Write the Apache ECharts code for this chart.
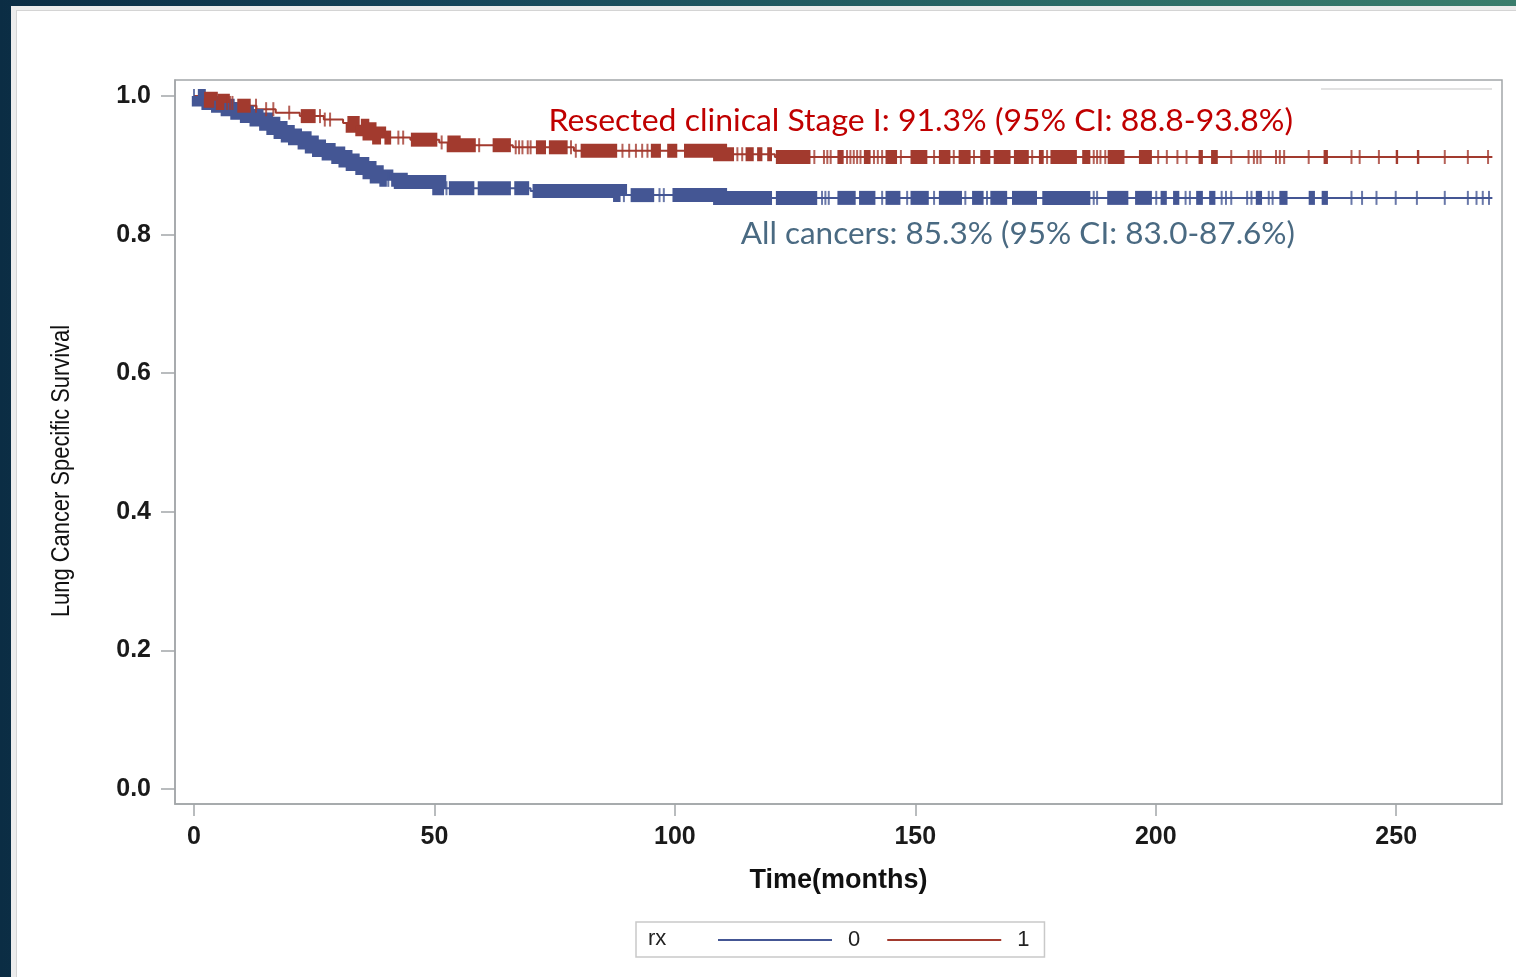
<!DOCTYPE html>
<html>
<head>
<meta charset="utf-8">
<script src="https://cdn.jsdelivr.net/npm/echarts@6/dist/echarts.min.js"></script>
<style>
html,body{margin:0;padding:0;width:1516px;height:977px;overflow:hidden}
body{background:linear-gradient(90deg,#0b2d44 0%,#15455a 30%,#2a6a66 70%,#3a7d6c 100%);}
#panel{position:absolute;left:11px;top:6px;width:1505px;height:971px;background:#ececec;}
#inner{position:absolute;left:16px;top:10px;width:1500px;height:967px;background:#fff;border-left:1px solid #d4d4d4;border-top:1px solid #d4d4d4;box-sizing:border-box}
#chart{position:absolute;left:0;top:0;width:1516px;height:977px}
</style>
</head>
<body>
<div id="panel"></div>
<div id="inner"></div>
<div id="chart"></div>
<script>
// ---------- data ----------
// Kaplan-Meier step curves (time in months, survival); last entry = end of follow-up
const blueTimes = [0, 1, 3, 5, 7, 9, 11, 13, 15, 16.5, 18, 19.5, 21, 23, 24.5, 26, 28, 30, 31.5, 33, 35, 36.5, 38, 40, 43, 51, 70, 88.6, 109.4, 270];
const blueSurv  = [1.0, 0.995, 0.990, 0.986, 0.981, 0.976, 0.971, 0.966, 0.960, 0.954, 0.948, 0.943, 0.939, 0.933, 0.927, 0.922, 0.917, 0.912, 0.907, 0.902, 0.896, 0.890, 0.884, 0.879, 0.876, 0.867, 0.863, 0.857, 0.853, 0.853];

const redTimes = [0, 1, 3.5, 6, 9, 13, 17, 22, 27, 31, 33, 35, 36.5, 38.5, 45, 51, 54, 66.3, 79, 109.4, 120.8, 270];
const redSurv  = [1.0, 0.996, 0.993, 0.990, 0.986, 0.981, 0.976, 0.971, 0.966, 0.961, 0.957, 0.952, 0.946, 0.940, 0.937, 0.933, 0.929, 0.926, 0.921, 0.916, 0.912, 0.912];

// censored observations: dense runs [start, end] and single marks
const blueCensorRuns = [[0.8,40.1],[41,52],[53,58.3],[59,65.9],[66.6,69.7],[70.4,88.7],[90.8,95.7],[99.5,120.2],[121,129.6],[133.8,137.6],[138.3,141.7],[143.8,146.9],[149,152.8],[154.9,159.7],[161.8,164.2],[165.6,169.1],[170.1,175.3],[176.4,186.4],[189.9,194.3],[195.7,199.2],[201,202.3],[203.6,204.9],[208.4,209.8],[211.1,212.4],[220.8,222.1],[225.7,227.4],[231.8,233.1],[234.5,235.8]];
const blueCensorMarks = [0, 40.4, 52.5, 89.4, 96.8, 97.7, 130.6, 131.3, 132, 143.1, 148.3, 153.9, 160.4, 164.9, 187.1, 187.8, 200.1, 206.2, 207.1, 213.7, 214.6, 215.7, 219.0, 219.9, 223.5, 224.3, 240.7, 242.9, 245.9, 249.9, 254.3, 260.1, 264.9, 266.7, 268, 269.3];

const redCensorRuns = [[2.1,4.2],[4.9,6.3],[9,11.8],[22.2,25.3],[31.9,34],[34.7,38.9],[39.6,41],[45.1,50.6],[52.7,58.6],[62.1,65.9],[71.1,73.2],[73.8,77.7],[80.4,88],[95,97.1],[98.4,100.5],[101.9,112.3],[114.7,116.4],[117.1,118.2],[119.2,120.2],[121,128.2],[133.8,135.1],[139.3,140.7],[143.8,146.2],[149,152.5],[154.9,157.3],[159,161.5],[163.5,165.6],[166.3,169.8],[170.5,173.6],[175.7,176.7],[178.1,183.6],[184.7,186.4],[190,193.5],[196.5,199.2],[208.9,209.8],[211.5,212.9],[234.9,235.8],[249.9,250.4],[254.3,254.8]];
const redCensorMarks = [6.9, 7.5, 8.0, 12.9, 15, 16.5, 19.8, 26.2, 27.2, 28.3, 42.5, 43.5, 51.5, 59.3, 66.9, 67.6, 68.3, 69.4, 70.0, 78.4, 79.4, 89.1, 90.5, 91.9, 93.2, 94.3, 113, 114, 129, 131, 131.7, 132.4, 135.8, 136.5, 137.2, 137.9, 138.6, 141.4, 142.2, 143.1, 147, 153.9, 158, 162.2, 174.3, 177.4, 187.1, 187.8, 188.5, 189.5, 200.5, 202.3, 204.5, 206.4, 215.7, 219.3, 220.4, 221.1, 221.8, 225, 225.8, 226.7, 231.8, 240.7, 242.4, 246.4, 260.1, 264.9, 269.1];

const xTicks = [0, 50, 100, 150, 200, 250];
const yTicks = [0.0, 0.2, 0.4, 0.6, 0.8, 1.0];
const groupNames = ['0', '1'];
const legendTitle = 'rx';
const xTitle = 'Time(months)';
const yTitle = 'Lung Cancer Specific Survival';
const redNote = 'Resected clinical Stage I: 91.3% (95% CI: 88.8-93.8%)';
const blueNote = 'All cancers: 85.3% (95% CI: 83.0-87.6%)';

// ---------- drawing ----------
const X_MIN = -3.95, X_MAX = 272.0, Y_MIN = -0.0216, Y_MAX = 1.0231;
const BLUE = '#445694', RED = '#A23A2E', AXIS = '#a3a6a9';
const MARK_H = 14;

function survAt(T, S, t) {
  let s = S[0];
  for (let i = 0; i < T.length; i++) { if (T[i] <= t) s = S[i]; else break; }
  return s;
}
function stepData(T, S) { return T.map((t, i) => [t, S[i]]); }
function markData(T, S, marks) { return marks.map(t => [t, survAt(T, S, t)]); }

function runRenderer(T, S, color) {
  return function (params, api) {
    const s = api.value(0), e = api.value(1);
    const pts = [];
    let cur = survAt(T, S, s);
    pts.push(api.coord([s, cur]));
    for (let i = 0; i < T.length; i++) {
      if (T[i] > s && T[i] <= e) {
        pts.push(api.coord([T[i], cur]));
        cur = S[i];
        pts.push(api.coord([T[i], cur]));
      }
    }
    pts.push(api.coord([e, cur]));
    return {
      type: 'polyline',
      shape: { points: pts },
      style: { stroke: color, lineWidth: MARK_H, fill: null, lineJoin: 'miter', lineCap: 'butt' },
      silent: true
    };
  };
}

const chart = echarts.init(document.getElementById('chart'), null, { renderer: 'canvas' });

const option = {
  animation: false,
  backgroundColor: 'transparent',
  grid: { left: 175, top: 80, right: 14, bottom: 173, show: true, borderColor: AXIS, borderWidth: 1.5, backgroundColor: 'transparent' },
  xAxis: {
    type: 'value', min: X_MIN, max: X_MAX,
    splitLine: { show: false },
    axisLine: { show: true, onZero: false, lineStyle: { color: AXIS, width: 1.5 } },
    axisTick: { show: true, length: 12, lineStyle: { color: AXIS, width: 1.5 }, customValues: xTicks },
    axisLabel: { customValues: xTicks, fontSize: 25, fontWeight: 'bold', color: '#1a1a1a', fontFamily: 'Liberation Sans', margin: 21 },
    name: xTitle, nameLocation: 'middle', nameGap: 63,
    nameTextStyle: { fontSize: 27, fontWeight: 'bold', color: '#111', fontFamily: 'Liberation Sans' }
  },
  yAxis: {
    type: 'value', min: Y_MIN, max: Y_MAX,
    splitLine: { show: false },
    axisLine: { show: true, onZero: false, lineStyle: { color: AXIS, width: 1.5 } },
    axisTick: { show: true, length: 14, lineStyle: { color: AXIS, width: 1.5 }, customValues: yTicks },
    axisLabel: { customValues: yTicks, fontSize: 25, fontWeight: 'bold', color: '#1a1a1a', fontFamily: 'Liberation Sans', margin: 24, formatter: v => v.toFixed(1) }
  },
  legend: {
    data: groupNames, left: 636, top: 922,
    icon: 'rect', itemWidth: 114, itemHeight: 2, itemGap: 27,
    padding: [7, 15, 6, 82],
    borderColor: '#c9c9c9', borderWidth: 1.5,
    selectedMode: false,
    textStyle: { fontSize: 22, color: '#222', fontFamily: 'Liberation Sans', padding: [0, 0, 0, 11] }
  },
  graphic: [
    { type: 'text', left: 648, top: 928, style: { text: legendTitle, font: '22px "Liberation Sans"', fill: '#222' } },
    { type: 'line', shape: { x1: 1321, y1: 89, x2: 1492, y2: 89 }, style: { stroke: '#d8d8d8', lineWidth: 1.5 } },
    { type: 'text', x: 62, y: 471, rotation: Math.PI / 2, scaleX: 0.876,
      style: { text: yTitle, font: '25px "Liberation Sans"', fill: '#111', align: 'center', verticalAlign: 'middle' } },
    { type: 'text', x: 1293, y: 121, scaleX: 1.065, style: { text: redNote, font: '30px Lato', fill: '#C00000', align: 'right', verticalAlign: 'middle' } },
    { type: 'text', x: 1295, y: 234, scaleX: 1.05, style: { text: blueNote, font: '30px Lato', fill: '#4A6A82', align: 'right', verticalAlign: 'middle' } }
  ],
  series: [
    { name: groupNames[0], type: 'line', step: 'end', data: stepData(blueTimes, blueSurv), symbol: 'none', showSymbol: false,
      lineStyle: { color: BLUE, width: 2 }, itemStyle: { color: BLUE }, z: 2 },
    { name: groupNames[1], type: 'line', step: 'end', data: stepData(redTimes, redSurv), symbol: 'none', showSymbol: false,
      lineStyle: { color: RED, width: 2 }, itemStyle: { color: RED }, z: 2 },
    { name: 'blueRuns', type: 'custom', data: blueCensorRuns, renderItem: runRenderer(blueTimes, blueSurv, BLUE), encode: { x: [0, 1] }, z: 3, silent: true },
    { name: 'blueMarks', type: 'scatter', data: markData(blueTimes, blueSurv, blueCensorMarks), symbol: 'rect', symbolSize: [2, MARK_H],
      itemStyle: { color: BLUE }, z: 3, silent: true },
    { name: 'redRuns', type: 'custom', data: redCensorRuns, renderItem: runRenderer(redTimes, redSurv, RED), encode: { x: [0, 1] }, z: 4, silent: true },
    { name: 'redMarks', type: 'scatter', data: markData(redTimes, redSurv, redCensorMarks), symbol: 'rect', symbolSize: [2, MARK_H],
      itemStyle: { color: RED }, z: 4, silent: true }
  ]
};
chart.setOption(option);
</script>
</body>
</html>
